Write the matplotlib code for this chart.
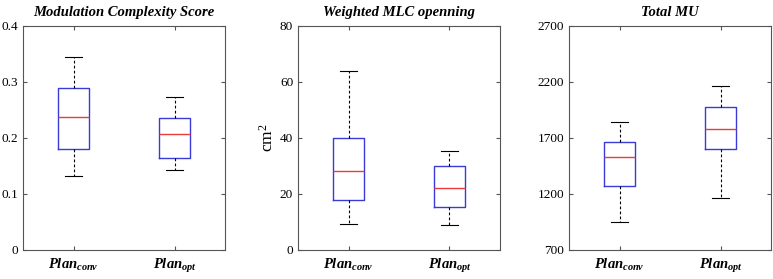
import matplotlib
matplotlib.use("Agg")
from matplotlib import pyplot as plt

# box statistics: low whisker, q1, median, q3, high whisker
groups = ['conv', 'opt']
mcs_conv = [0.133, 0.180, 0.2375, 0.290, 0.345]
mcs_opt = [0.143, 0.164, 0.208, 0.236, 0.274]
mlc_conv = [9.4, 17.7, 28.2, 40.1, 64.0]
mlc_opt = [8.9, 15.5, 22.0, 30.1, 35.4]
mu_conv = [947, 1268, 1533, 1661, 1846]
mu_opt = [1167, 1599, 1777, 1980, 2161]

titles = ['Modulation Complexity Score', 'Weighted MLC openning', 'Total MU']
yticks = [[0, 0.1, 0.2, 0.3, 0.4], [0, 20, 40, 60, 80], [700, 1200, 1700, 2200, 2700]]
yticklabels = [['0', '0.1', '0.2', '0.3', '0.4'], None, None]

plt.rcParams['font.family'] = ['Liberation Serif', 'DejaVu Serif']
plt.rcParams['mathtext.fontset'] = 'custom'
plt.rcParams['mathtext.rm'] = 'Liberation Serif'
plt.rcParams['mathtext.it'] = 'Liberation Serif:bold:italic'
plt.rcParams['mathtext.bf'] = 'Liberation Serif:bold'


def make_stats(vals, label):
    lo, q1, med, q3, hi = vals
    return dict(whislo=lo, q1=q1, med=med, q3=q3, whishi=hi, fliers=[], label=label)


fig = plt.figure(figsize=(7.73, 2.79), dpi=100)
lefts = [23, 298, 569]
width = 202
datasets = [(mcs_conv, mcs_opt), (mlc_conv, mlc_opt), (mu_conv, mu_opt)]

for i, (a, b) in enumerate(datasets):
    ax = fig.add_axes([lefts[i] / 773, 29 / 279, width / 773, 224 / 279])
    stats = [make_stats(a, r'$\mathit{Plan}_{\mathit{%s}}$' % groups[0]),
             make_stats(b, r'$\mathit{Plan}_{\mathit{%s}}$' % groups[1])]
    ax.bxp(stats, positions=[1, 2], widths=0.3, showfliers=False,
           capwidths=0.16,
           boxprops=dict(color='#3a3ad8', linewidth=1.0),
           medianprops=dict(color='#ee3a3a', linewidth=1.0),
           whiskerprops=dict(color='black', linestyle=(0, (2.5, 2)), linewidth=0.8),
           capprops=dict(color='black', linewidth=0.8))
    ax.set_xlim(0.5, 2.5)
    ax.set_ylim(yticks[i][0], yticks[i][-1])
    ax.set_yticks(yticks[i])
    if yticklabels[i]:
        ax.set_yticklabels(yticklabels[i])
    ax.tick_params(direction='in', top=True, right=True, length=3,
                   color='#555555', labelsize=9.5)
    ax.tick_params(axis='x', labelsize=10.5, pad=5)
    for s in ax.spines.values():
        s.set_color('#555555')
    ax.set_title(titles[i], fontsize=10.5, fontweight='bold', style='italic', pad=7)
    if i == 1:
        ax.set_ylabel('cm$^2$', fontsize=12.5, labelpad=2)

fig.savefig('out.png', dpi=100)
